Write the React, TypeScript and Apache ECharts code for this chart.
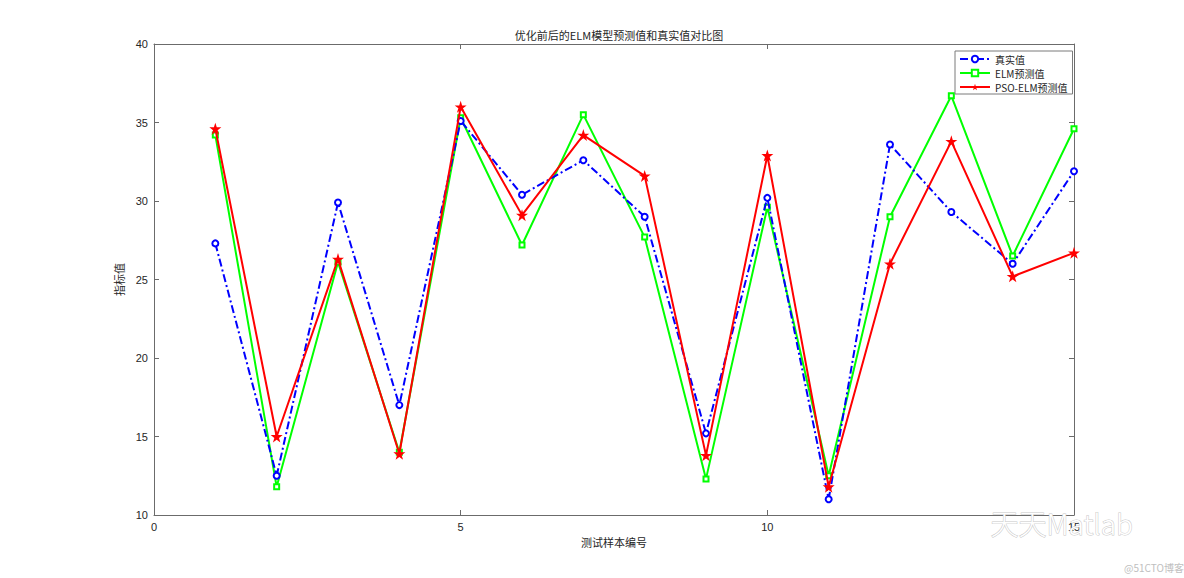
import React, { useEffect, useRef } from "react";
import * as echarts from "echarts";

const sampleIdx = [1, 2, 3, 4, 5, 6, 7, 8, 9, 10, 11, 12, 13, 14, 15];
const trueValues = [27.3, 12.5, 29.9, 17.0, 35.1, 30.4, 32.6, 29.0, 15.2, 30.2, 11.0, 33.6, 29.3, 26.0, 31.9];
const elmValues = [34.2, 11.8, 26.1, 14.0, 35.3, 27.2, 35.5, 27.7, 12.3, 29.6, 12.5, 29.0, 36.7, 26.5, 34.6];
const psoValues = [34.6, 15.0, 26.3, 13.9, 36.0, 29.1, 34.2, 31.6, 13.8, 32.9, 11.8, 26.0, 33.8, 25.2, 26.7];
const seriesNames = ["真实值", "ELM预测值", "PSO-ELM预测值"];

const STAR = "path://M50,0 L61.8,35.5 L99,35.5 L69,57.5 L80.5,93 L50,71 L19.5,93 L31,57.5 L1,35.5 L38.2,35.5 Z";

export default function App() {
  const ref = useRef<HTMLDivElement>(null);
  useEffect(() => {
    if (!ref.current) return;
    const chart = echarts.init(ref.current, undefined, { renderer: "svg" });
    const axisColor = "#6b6b6b";
    const labelColor = "#262626";
    const font = "'Noto Sans CJK SC', 'Liberation Sans', sans-serif";
    const zip = (arr: number[]) => arr.map((v, i) => [sampleIdx[i], v]);
    const baseAxis = {
      axisLine: { show: true, onZero: false, lineStyle: { color: axisColor, width: 1 } },
      axisTick: { show: true, inside: true, length: 5, lineStyle: { color: axisColor } },
      splitLine: { show: false },
    };
    chart.setOption({
      animation: false,
      backgroundColor: "#ffffff",
      textStyle: { fontFamily: font },
      title: {
        text: "优化前后的ELM模型预测值和真实值对比图",
        left: 614,
        top: 24,
        textAlign: "center",
        textStyle: { fontSize: 11, fontWeight: "normal", color: labelColor, fontFamily: font },
      },
      grid: { left: 154, right: 110, top: 44, bottom: 63, containLabel: false },
      legend: {
        orient: "vertical",
        left: 955,
        top: 51,
        itemWidth: 30,
        itemHeight: 8,
        itemGap: 4,
        padding: [3, 5, 2, 4],
        borderColor: "#7a7a7a",
        borderWidth: 1,
        backgroundColor: "#ffffff",
        textStyle: { fontSize: 10, color: labelColor, fontFamily: font },
        data: seriesNames,
      },
      xAxis: [
        {
          ...baseAxis,
          type: "value",
          min: 0,
          max: 15,
          interval: 5,
          position: "bottom",
          name: "测试样本编号",
          nameLocation: "middle",
          nameGap: 18,
          nameTextStyle: { fontSize: 11, color: labelColor, fontFamily: font },
          axisLabel: { fontSize: 11, color: labelColor, margin: 6, fontFamily: "'Liberation Sans', sans-serif" },
        },
        {
          ...baseAxis,
          type: "value",
          min: 0,
          max: 15,
          interval: 5,
          position: "top",
          axisLabel: { show: false },
        },
      ],
      yAxis: [
        {
          ...baseAxis,
          type: "value",
          min: 10,
          max: 40,
          interval: 5,
          position: "left",
          name: "指标值",
          nameLocation: "middle",
          nameGap: 20,
          nameRotate: 90,
          nameTextStyle: { fontSize: 11, color: labelColor, fontFamily: font },
          axisLabel: { fontSize: 11, color: labelColor, margin: 6, fontFamily: "'Liberation Sans', sans-serif" },
        },
        {
          ...baseAxis,
          type: "value",
          min: 10,
          max: 40,
          interval: 5,
          position: "right",
          axisLabel: { show: false },
        },
      ],
      series: [
        {
          name: seriesNames[0],
          type: "line",
          data: zip(trueValues),
          symbol: "emptyCircle",
          symbolSize: 6,
          showAllSymbol: true,
          itemStyle: { color: "#0000ff", borderWidth: 1.6 },
          lineStyle: { color: "#0000ff", width: 2, type: [8, 3, 2, 3] },
          z: 3,
        },
        {
          name: seriesNames[1],
          type: "line",
          data: zip(elmValues),
          symbol: "emptyRect",
          symbolSize: 5,
          showAllSymbol: true,
          itemStyle: { color: "#00ff00", borderWidth: 1.4 },
          lineStyle: { color: "#00ff00", width: 2 },
          z: 2,
        },
        {
          name: seriesNames[2],
          type: "line",
          data: zip(psoValues),
          symbol: STAR,
          symbolSize: 12,
          showAllSymbol: true,
          itemStyle: { color: "#ff0000" },
          lineStyle: { color: "#ff0000", width: 2 },
          z: 4,
        },
      ],
      graphic: [
        {
          type: "text",
          left: 990,
          top: 508,
          z: 100,
          style: {
            text: "天天Matlab",
            fontSize: 28,
            fontFamily: "'Noto Sans CJK SC', sans-serif",
            fontWeight: 200,
            fill: "#ffffff",
            stroke: "#c8c8c8",
            lineWidth: 1,
          },
        },
        {
          type: "text",
          left: 1124,
          top: 562,
          style: {
            text: "@51CTO博客",
            fontSize: 10,
            fontFamily: font,
            fill: "#c0c0c0",
          },
        },
      ],
    });
    return () => chart.dispose();
  }, []);
  return (
    <div
      ref={ref}
      style={{ position: "fixed", left: 0, top: 0, width: 1184, height: 578, background: "#fff" }}
    />
  );
}
